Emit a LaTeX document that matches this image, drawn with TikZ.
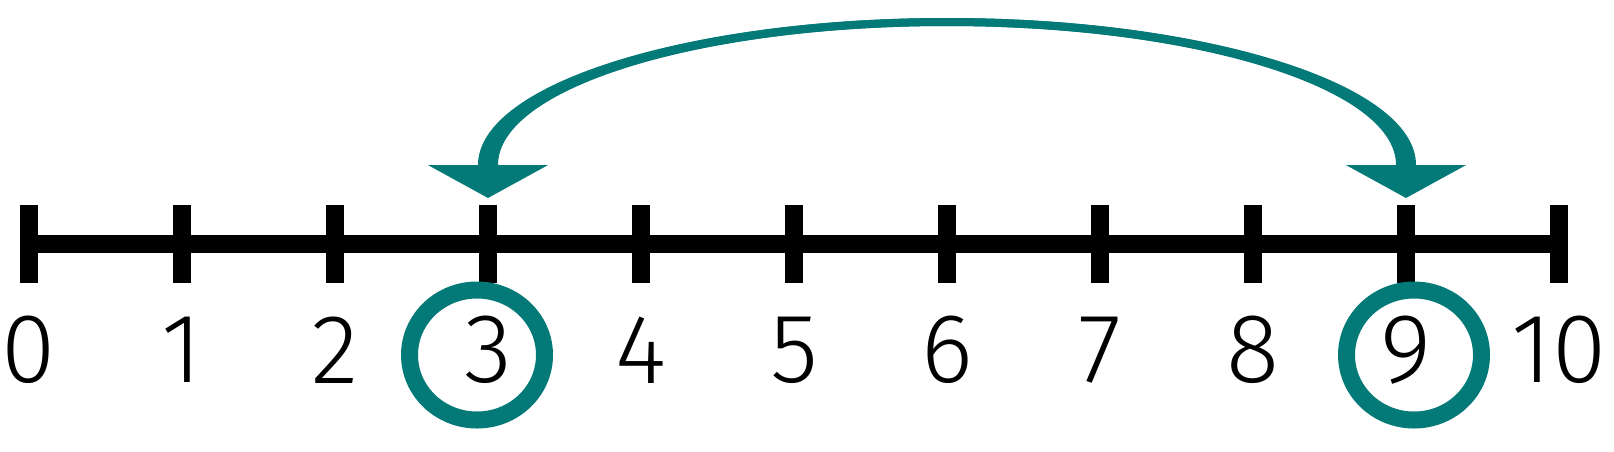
\documentclass[tikz,border=0pt]{standalone}
\usepackage{fontspec}
\setmainfont{Fira Sans}[UprightFont=* Light]
\usetikzlibrary{positioning,arrows.meta,shapes.geometric}
\definecolor{hopteal}{RGB}{4,122,120}

\begin{document}
\begin{tikzpicture}[
    num/.style={font=\fontsize{56}{60}\selectfont, inner sep=0pt},
    ring/.style={ellipse, draw=hopteal, line width=0.34cm, minimum width=2.7cm, minimum height=2.6cm, inner sep=0pt},
    hop/.style={draw=hopteal, line width=0.16cm, {Triangle[width=2.38cm,length=0.66cm]}-{Triangle[width=2.38cm,length=0.66cm]}},
    axis/.style={line width=0.36cm}
  ]
        \useasboundingbox (0,0) rectangle (32.28,9.02);

        \coordinate (P0) at (0.58,4.14);
        \coordinate [on grid, right=3.06cm of P0] (P1);
        \coordinate [on grid, right=3.06cm of P1] (P2);
        \coordinate [on grid, right=3.06cm of P2] (P3);
        \coordinate [on grid, right=3.06cm of P3] (P4);
        \coordinate [on grid, right=3.06cm of P4] (P5);
        \coordinate [on grid, right=3.06cm of P5] (P6);
        \coordinate [on grid, right=3.06cm of P6] (P7);
        \coordinate [on grid, right=3.06cm of P7] (P8);
        \coordinate [on grid, right=3.06cm of P8] (P9);
        \coordinate [on grid, right=3.06cm of P9] (P10);

        \draw[axis] (P0) to (P10);
        \draw[axis] ([yshift=0.78cm]P0) to ([yshift=-0.78cm]P0);
        \draw[axis] ([yshift=0.78cm]P1) to ([yshift=-0.78cm]P1);
        \draw[axis] ([yshift=0.78cm]P2) to ([yshift=-0.78cm]P2);
        \draw[axis] ([yshift=0.78cm]P3) to ([yshift=-0.78cm]P3);
        \draw[axis] ([yshift=0.78cm]P4) to ([yshift=-0.78cm]P4);
        \draw[axis] ([yshift=0.78cm]P5) to ([yshift=-0.78cm]P5);
        \draw[axis] ([yshift=0.78cm]P6) to ([yshift=-0.78cm]P6);
        \draw[axis] ([yshift=0.78cm]P7) to ([yshift=-0.78cm]P7);
        \draw[axis] ([yshift=0.78cm]P8) to ([yshift=-0.78cm]P8);
        \draw[axis] ([yshift=0.78cm]P9) to ([yshift=-0.78cm]P9);
        \draw[axis] ([yshift=0.78cm]P10) to ([yshift=-0.78cm]P10);

        \node [num] (N0) at ([yshift=-2.12cm]P0) {0};
        \node [num] (N1) at ([yshift=-2.12cm]P1) {1};
        \node [num] (N2) at ([yshift=-2.12cm]P2) {2};
        \node [num] (N3) at ([yshift=-2.12cm]P3) {3};
        \node [num] (N4) at ([yshift=-2.12cm]P4) {4};
        \node [num] (N5) at ([yshift=-2.12cm]P5) {5};
        \node [num] (N6) at ([yshift=-2.12cm]P6) {6};
        \node [num] (N7) at ([yshift=-2.12cm]P7) {7};
        \node [num] (N8) at ([yshift=-2.12cm]P8) {8};
        \node [num] (N9) at ([yshift=-2.12cm]P9) {9};
        \node [num] (N10) at ([yshift=-2.12cm]P10) {10};

        \node [ring] (R3) at ([xshift=-0.22cm,yshift=-2.22cm]P3) {};
        \node [ring] (R9) at ([xshift=0.16cm,yshift=-2.22cm]P9) {};

        \coordinate (T3) at ([yshift=0.92cm]P3);
        \coordinate (T9) at ([yshift=0.92cm]P9);
        \draw[hop] (T9) to ++(0,0.66) arc[start angle=0, end angle=180, x radius=9.18cm, y radius=2.86cm] to (T3);
        % thicker towards the heads
        \fill[hopteal] ([xshift=0.2cm,yshift=0.66cm]T9) arc[start angle=0, end angle=180, x radius=9.38cm, y radius=2.94cm]
          -- ++(0.4cm,0) arc[start angle=180, end angle=0, x radius=8.98cm, y radius=2.78cm] -- cycle;
      \end{tikzpicture}
\end{document}
